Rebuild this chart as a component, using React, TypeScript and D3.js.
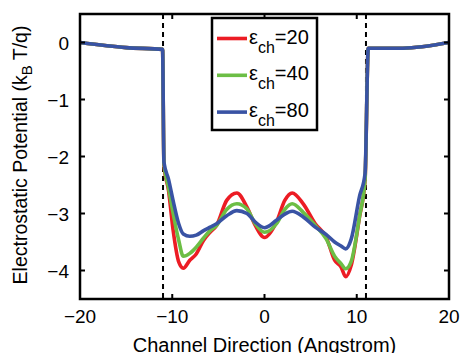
import React from "react";
import * as d3 from "d3";

const xs = [-20, -15, -11.05, -10.9, -10.4, -9.9, -9.3, -8.8, -8.1, -7.4, -6.6, -5.9, -5.2, -4.1, -3.0, -1.9, -1.0, 0, 1.3, 2.2, 3.0, 4.2, 5.5, 6.7, 7.6, 8.3, 8.8, 9.4, 10.3, 10.9, 11.25, 15, 20];
const eps20 = [0, -0.09, -0.12, -2.15, -2.6, -3.3, -3.85, -3.96, -3.82, -3.71, -3.47, -3.33, -3.21, -2.77, -2.64, -2.89, -3.21, -3.42, -3.15, -2.77, -2.64, -2.83, -3.18, -3.42, -3.82, -3.94, -4.11, -3.91, -3.06, -2.42, -0.1, -0.1, 0];
const eps40 = [0, -0.09, -0.12, -2.12, -2.55, -3.0, -3.47, -3.75, -3.7, -3.59, -3.43, -3.3, -3.21, -2.93, -2.83, -2.92, -3.18, -3.33, -3.18, -2.93, -2.83, -2.98, -3.21, -3.45, -3.75, -3.88, -3.97, -3.84, -3.05, -2.4, -0.1, -0.1, 0];
const eps80 = [0, -0.09, -0.12, -2.1, -2.4, -2.78, -3.18, -3.36, -3.4, -3.38, -3.3, -3.24, -3.18, -3.04, -2.95, -3.0, -3.15, -3.25, -3.12, -3.01, -2.96, -3.06, -3.24, -3.37, -3.5, -3.57, -3.62, -3.45, -2.7, -2.3, -0.1, -0.1, 0];
const seriesNames = ["20", "40", "80"];
const seriesColors = ["#ec1c24", "#6cbe45", "#3953a4"];
const xTicks = [-20, -10, 0, 10, 20];
const yTicks = [-4, -3, -2, -1, 0];
const dashedX = [-11, 11];

const W = 461, H = 353;
const L = 80, R = 449, T = 14, B = 299;
const FONT = "'Liberation Sans', Arial, Helvetica, sans-serif";

const fmt = (v: number) => (v < 0 ? "\u2212" + Math.abs(v) : String(v));

export default function App() {
  const x = d3.scaleLinear().domain([-20, 20]).range([L, R]);
  const y = d3.scaleLinear().domain([-4.5, 0.5]).range([B, T]);
  const line = d3
    .line<[number, number]>()
    .x((d) => x(d[0]))
    .y((d) => y(d[1]))
    .curve(d3.curveMonotoneX);
  const all = [eps20, eps40, eps80];
  const tl = 5;
  return (
    <svg width={W} height={H} style={{ position: "absolute", left: 0, top: 0, background: "#fff" }} fontFamily={FONT}>
      <rect x={0} y={0} width={W} height={H} fill="#fff" />
      <defs>
        <clipPath id="pc">
          <rect x={L} y={T} width={R - L} height={B - T} />
        </clipPath>
      </defs>
      {dashedX.map((d) => (
        <line key={d} x1={x(d)} x2={x(d)} y1={T} y2={B} stroke="#000" strokeWidth={2} strokeDasharray="5,4" />
      ))}
      <g clipPath="url(#pc)">
        {all.map((s, i) => (
          <path
            key={i}
            d={line(xs.map((v, j) => [v, s[j]] as [number, number])) || ""}
            fill="none"
            stroke={seriesColors[i]}
            strokeWidth={3.6}
            strokeLinejoin="round"
          />
        ))}
      </g>
      {/* ticks */}
      {xTicks.map((t) => (
        <g key={"xt" + t}>
          <line x1={x(t)} x2={x(t)} y1={B} y2={B - tl} stroke="#000" strokeWidth={2} />
          <line x1={x(t)} x2={x(t)} y1={T} y2={T + tl} stroke="#000" strokeWidth={2} />
          <text x={x(t)} y={323} fontSize={19} textAnchor="middle">{fmt(t)}</text>
        </g>
      ))}
      {yTicks.map((t) => (
        <g key={"yt" + t}>
          <line x1={L} x2={L + tl} y1={y(t)} y2={y(t)} stroke="#000" strokeWidth={2} />
          <line x1={R} x2={R - tl} y1={y(t)} y2={y(t)} stroke="#000" strokeWidth={2} />
          <text x={69} y={y(t) + 7} fontSize={19} textAnchor="end">{fmt(t)}</text>
        </g>
      ))}
      <rect x={L} y={T} width={R - L} height={B - T} fill="none" stroke="#000" strokeWidth={2.5} />
      {/* legend */}
      <rect x={212} y={18} width={105} height={112} fill="#fff" stroke="#000" strokeWidth={2.5} />
      {seriesNames.map((n, i) => {
        const ly = 38.5 + i * 36.8;
        return (
          <g key={n}>
            <line x1={217} x2={247} y1={ly} y2={ly} stroke={seriesColors[i]} strokeWidth={3.6} />
            <text x={249} y={ly + 5} fontSize={20}>
              <tspan>ε</tspan>
              <tspan fontSize={16} dy={9}>ch</tspan>
              <tspan dy={-9}>={n}</tspan>
            </text>
          </g>
        );
      })}
      {/* axis labels */}
      <text x={(L + R) / 2} y={352} fontSize={20} textAnchor="middle">Channel Direction (Angstrom)</text>
      <text transform={`translate(27,155) rotate(-90)`} fontSize={19.5} textAnchor="middle">
        <tspan>Electrostatic Potential (k</tspan>
        <tspan fontSize={15} dy={5}>B</tspan>
        <tspan dy={-5}> T/q)</tspan>
      </text>
    </svg>
  );
}
